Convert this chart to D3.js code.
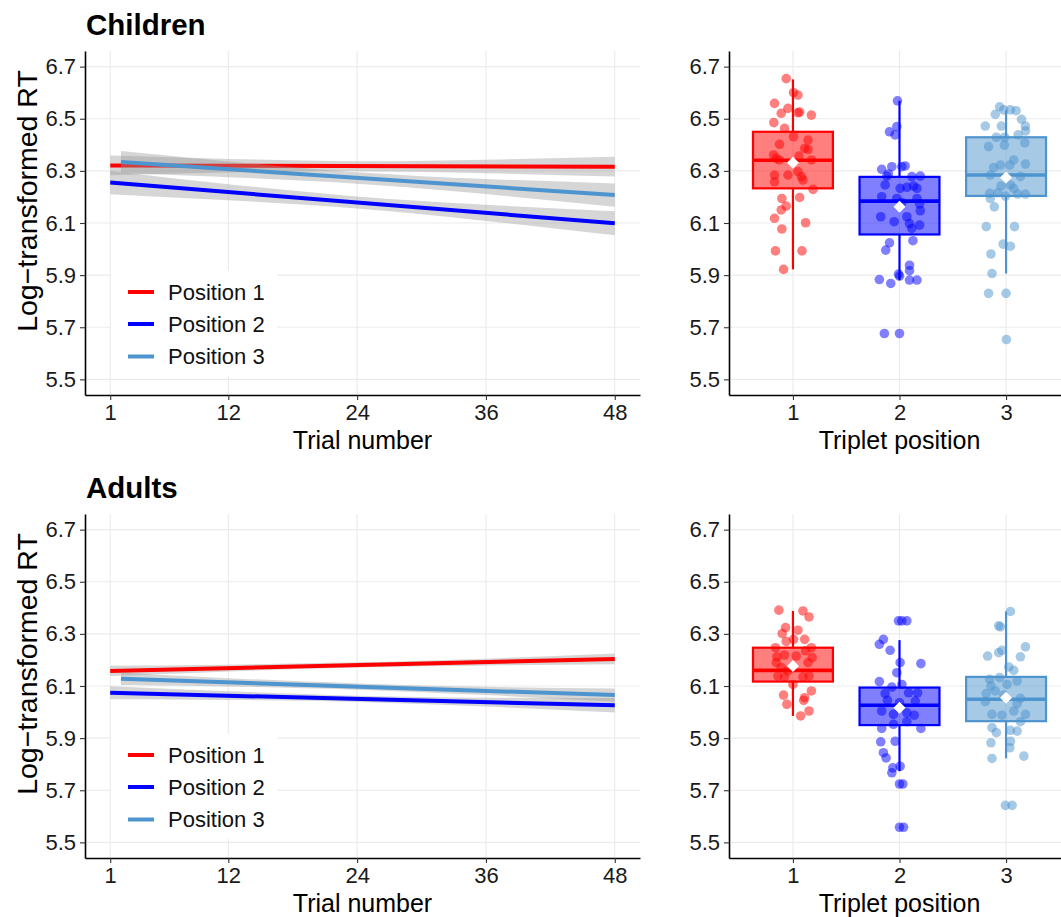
<!DOCTYPE html>
<html><head><meta charset="utf-8">
<script src="https://cdn.jsdelivr.net/npm/d3@7"></script>
<style>
html,body{margin:0;padding:0;background:#fff;}
svg{display:block;font-family:"Liberation Sans",Arial,Helvetica,sans-serif;}
</style></head>
<body>
<svg id="chart" width="1061" height="917"></svg>
<script>
// ---------------- DATA ----------------
const groupTitles = ["Children", "Adults"];
const seriesNames = ["Position 1", "Position 2", "Position 3"];
const seriesColors = ["#FF0000", "#0000FF", "#4E94CE"];
const yTicks = [5.5, 5.7, 5.9, 6.1, 6.3, 6.5, 6.7];
const trialTicks = [1, 12, 24, 36, 48];
const positionCats = ["1", "2", "3"];

// Fitted regression lines: [startTrial, startValue, endTrial, endValue]
const childrenFit = [[1, 6.321, 48, 6.316], [1, 6.255, 48, 6.099], [2, 6.334, 48, 6.207]];
const adultsFit   = [[1, 6.158, 48, 6.204], [1, 6.074, 48, 6.026], [2, 6.128, 48, 6.065]];

// Confidence bands read at knots
const bandKnotsP12 = [1, 12, 24, 36, 48];
const bandKnotsP3  = [2, 12, 24, 36, 48];
const childrenBandLow  = [[6.283, 6.294, 6.299, 6.291, 6.278], [6.210, 6.187, 6.156, 6.108, 6.053], [6.292, 6.276, 6.251, 6.211, 6.162]];
const childrenBandHigh = [[6.359, 6.346, 6.337, 6.343, 6.354], [6.300, 6.249, 6.202, 6.170, 6.145], [6.376, 6.336, 6.295, 6.269, 6.252]];
const adultsBandLow    = [[6.138, 6.156, 6.171, 6.179, 6.183], [6.049, 6.046, 6.039, 6.021, 5.998], [6.104, 6.098, 6.086, 6.065, 6.040]];
const adultsBandHigh   = [[6.178, 6.182, 6.191, 6.205, 6.225], [6.099, 6.080, 6.063, 6.055, 6.054], [6.152, 6.130, 6.110, 6.097, 6.090]];

// Box stats: [lowerWhisker, q1, median, q3, upperWhisker, mean]
const childrenBoxes = [[5.922, 6.233, 6.341, 6.450, 6.651, 6.331], [5.881, 6.056, 6.184, 6.277, 6.569, 6.162], [5.906, 6.204, 6.284, 6.429, 6.533, 6.275]];
const adultsBoxes   = [[5.985, 6.117, 6.160, 6.247, 6.388, 6.177], [5.773, 5.950, 6.026, 6.094, 6.276, 6.017], [5.822, 5.965, 6.049, 6.135, 6.386, 6.055]];

// Jittered participant points: [jitter offset (category units), value]
const childrenPts1 = [[-0.063,6.654],[0.006,6.600],[0.047,6.591],[-0.173,6.559],[-0.047,6.540],[-0.110,6.521],[0.047,6.523],[0.063,6.526],[0.173,6.514],[-0.179,6.485],[-0.079,6.463],[0.006,6.431],[0.142,6.418],[-0.126,6.402],[0.110,6.386],[0.142,6.382],[-0.182,6.361],[-0.157,6.348],[-0.126,6.342],[0.057,6.357],[0.173,6.342],[-0.047,6.284],[-0.173,6.284],[-0.173,6.258],[0.079,6.278],[0.094,6.265],[0.047,6.297],[0.189,6.229],[-0.104,6.194],[0.063,6.198],[-0.063,6.165],[-0.110,6.150],[-0.173,6.118],[0.119,6.101],[-0.104,6.077],[-0.164,5.993],[0.085,5.993],[-0.088,5.922]];
const childrenPts2 = [[-0.019,6.569],[-0.094,6.450],[-0.025,6.470],[-0.041,6.438],[-0.167,6.306],[-0.072,6.316],[0.022,6.316],[0.053,6.319],[-0.104,6.288],[-0.119,6.280],[0.116,6.278],[0.195,6.280],[-0.135,6.246],[0.006,6.233],[0.069,6.237],[0.132,6.242],[0.164,6.233],[-0.167,6.201],[-0.025,6.194],[0.022,6.178],[0.164,6.194],[0.189,6.173],[0.195,6.147],[-0.176,6.124],[-0.050,6.105],[0.069,6.124],[0.094,6.098],[0.189,6.092],[0.116,6.079],[-0.094,6.024],[0.126,6.032],[-0.129,5.996],[0.094,5.938],[0.094,5.917],[0.000,5.896],[-0.009,5.904],[-0.189,5.883],[-0.082,5.868],[0.094,5.881],[0.164,5.881],[-0.142,5.676],[0.000,5.676]];
const childrenPts3 = [[-0.060,6.546],[-0.022,6.534],[0.041,6.534],[0.094,6.531],[-0.101,6.517],[0.145,6.498],[-0.195,6.472],[-0.044,6.472],[0.182,6.472],[0.182,6.453],[0.113,6.438],[-0.091,6.429],[-0.013,6.429],[-0.164,6.393],[-0.016,6.399],[0.176,6.408],[0.072,6.342],[-0.116,6.313],[-0.053,6.322],[0.035,6.322],[0.182,6.326],[-0.148,6.284],[0.135,6.278],[-0.047,6.242],[0.041,6.246],[0.072,6.233],[-0.154,6.214],[-0.079,6.216],[-0.006,6.203],[0.110,6.211],[0.182,6.211],[-0.148,6.194],[-0.110,6.162],[-0.186,6.086],[0.079,6.086],[-0.028,6.019],[0.041,6.011],[-0.142,5.981],[-0.132,5.906],[-0.164,5.830],[0.000,5.830],[0.003,5.653]];
const adultsPts1 = [[-0.132,6.391],[0.094,6.388],[0.151,6.365],[-0.069,6.324],[0.047,6.314],[-0.101,6.301],[0.006,6.279],[0.110,6.279],[-0.063,6.271],[-0.164,6.247],[0.173,6.247],[-0.079,6.219],[0.031,6.215],[0.119,6.235],[-0.151,6.212],[0.182,6.209],[-0.157,6.190],[0.142,6.190],[-0.110,6.171],[-0.047,6.158],[-0.142,6.138],[-0.079,6.135],[0.094,6.135],[0.151,6.138],[0.000,6.106],[0.173,6.081],[0.110,6.055],[-0.088,6.065],[0.101,6.045],[-0.057,6.030],[0.151,6.004],[0.072,5.985]];
const adultsPts2 = [[-0.009,6.350],[0.022,6.350],[0.069,6.350],[-0.151,6.279],[-0.189,6.260],[-0.088,6.237],[0.201,6.186],[0.006,6.190],[-0.025,6.151],[-0.189,6.117],[-0.072,6.096],[0.022,6.106],[-0.135,6.071],[0.085,6.074],[0.170,6.074],[-0.113,6.045],[0.000,6.036],[0.148,6.042],[-0.167,6.004],[-0.057,5.991],[0.069,5.997],[0.138,5.988],[-0.057,5.953],[0.069,5.963],[-0.167,5.937],[0.201,5.937],[-0.176,5.886],[-0.041,5.888],[-0.151,5.844],[-0.126,5.824],[-0.063,5.786],[0.006,5.792],[-0.072,5.767],[0.000,5.724],[0.031,5.724],[0.000,5.558],[0.038,5.558]];
const adultsPts3 = [[0.041,6.386],[-0.069,6.331],[-0.053,6.327],[-0.173,6.215],[-0.069,6.228],[-0.038,6.237],[0.182,6.250],[0.135,6.212],[0.025,6.173],[0.072,6.160],[-0.154,6.126],[-0.060,6.132],[0.104,6.119],[-0.142,6.100],[0.009,6.106],[-0.186,6.071],[-0.101,6.081],[-0.022,6.065],[0.135,6.053],[-0.195,6.040],[0.104,6.032],[-0.132,5.991],[-0.038,5.988],[0.072,6.004],[0.182,5.991],[0.135,5.963],[-0.132,5.940],[-0.091,5.921],[0.041,5.930],[0.104,5.927],[-0.142,5.882],[0.041,5.888],[0.035,5.863],[-0.132,5.822],[0.167,5.831],[-0.006,5.642],[0.057,5.642]];

const groups = [
  {title: groupTitles[0], fit: childrenFit, low: childrenBandLow, high: childrenBandHigh, boxes: childrenBoxes, pts: [childrenPts1, childrenPts2, childrenPts3]},
  {title: groupTitles[1], fit: adultsFit, low: adultsBandLow, high: adultsBandHigh, boxes: adultsBoxes, pts: [adultsPts1, adultsPts2, adultsPts3]}
];

// ---------------- LAYOUT ----------------
const svg = d3.select("#chart");
const FONT = '"Liberation Sans",Arial,Helvetica,sans-serif';
const rowOffset = 463;
const leftX = [85, 640], rightX = [729, 1070];
const yTop = 51, yBot = 395;
const tickFont = 22, legendFont = 22, titleFont = 25;

const xTrial = d3.scaleLinear().domain([-1.35, 50.35]).range(leftX);
const xPos = d3.scalePoint().domain(positionCats).range(rightX).padding(0.6);
const step = xPos.step();
const boxW = step * 0.75;

groups.forEach((g, gi) => {
  const off = gi * rowOffset;
  const y = d3.scaleLinear().domain([5.44, 6.76]).range([yBot + off, yTop + off]);
  const root = svg.append("g");

  // Title
  root.append("text").attr("x", 86).attr("y", 35 + off)
    .attr("font-size", 29.5).attr("font-weight", "bold").attr("fill", "#000").text(g.title);

  // ---- gridlines
  const grid = root.append("g").attr("stroke", "#EBEBEB").attr("stroke-width", 1.1);
  [[leftX, xTrial, trialTicks], [rightX, xPos, positionCats]].forEach(([xr, xs, tv]) => {
    yTicks.forEach(t => grid.append("line").attr("x1", xr[0]).attr("x2", xr[1]).attr("y1", y(t)).attr("y2", y(t)));
    tv.forEach(t => grid.append("line").attr("x1", xs(t)).attr("x2", xs(t)).attr("y1", yTop + off).attr("y2", yBot + off));
  });

  // ---- left panel: bands + lines
  const lp = root.append("g");
  g.fit.forEach((f, si) => {
    const knots = si === 2 ? bandKnotsP3 : bandKnotsP12;
    const bandData = knots.map((k, i) => ({t: k, lo: g.low[si][i], hi: g.high[si][i]}));
    const area = d3.area().x(d => xTrial(d.t)).y0(d => y(d.lo)).y1(d => y(d.hi)).curve(d3.curveNatural);
    lp.append("path").attr("d", area(bandData)).attr("fill", "#999999").attr("fill-opacity", 0.4);
    lp.append("line").attr("x1", xTrial(f[0])).attr("y1", y(f[1])).attr("x2", xTrial(f[2])).attr("y2", y(f[3]))
      .attr("stroke", seriesColors[si]).attr("stroke-width", 4);
  });

  // Legend
  const leg = root.append("g");
  leg.append("rect").attr("x", 111).attr("y", 271 + off).attr("width", 166).attr("height", 105).attr("fill", "#fff");
  const legRows = [292, 324, 356.5];
  seriesNames.forEach((n, i) => {
    const ly = legRows[i] + off;
    leg.append("line").attr("x1", 128).attr("x2", 154).attr("y1", ly).attr("y2", ly)
      .attr("stroke", seriesColors[i]).attr("stroke-width", 4);
    leg.append("text").attr("x", 168).attr("y", ly).attr("dy", "0.36em")
      .attr("font-size", legendFont).attr("fill", "#111").text(n);
  });

  // ---- right panel: boxplots
  const rp = root.append("g");
  g.boxes.forEach((b, i) => {
    const cx = xPos(positionCats[i]);
    const col = seriesColors[i];
    rp.append("line").attr("x1", cx).attr("x2", cx).attr("y1", y(b[3])).attr("y2", y(b[4])).attr("stroke", col).attr("stroke-width", 2.2);
    rp.append("line").attr("x1", cx).attr("x2", cx).attr("y1", y(b[1])).attr("y2", y(b[0])).attr("stroke", col).attr("stroke-width", 2.2);
    rp.append("rect").attr("x", cx - boxW / 2).attr("width", boxW).attr("y", y(b[3])).attr("height", y(b[1]) - y(b[3]))
      .attr("fill", col).attr("fill-opacity", 0.5).attr("stroke", col).attr("stroke-width", 2.2);
    rp.append("line").attr("x1", cx - boxW / 2).attr("x2", cx + boxW / 2).attr("y1", y(b[2])).attr("y2", y(b[2]))
      .attr("stroke", col).attr("stroke-width", 3.6);
  });
  g.pts.forEach((pts, i) => {
    const col = seriesColors[i];
    rp.selectAll(null).data(pts).enter().append("circle")
      .attr("cx", d => xPos(positionCats[i]) + d[0] * step).attr("cy", d => y(d[1])).attr("r", 4.8)
      .attr("fill", col).attr("fill-opacity", 0.5);
  });
  g.boxes.forEach((b, i) => {
    const cx = xPos(positionCats[i]), cy = y(b[5]), r = 6;
    rp.append("path").attr("d", `M${cx},${cy - r}L${cx + r},${cy}L${cx},${cy + r}L${cx - r},${cy}Z`).attr("fill", "#fff");
  });

  // ---- axes
  const styleAxis = sel => {
    sel.select(".domain").attr("stroke", "#000").attr("stroke-width", 1.6);
    sel.selectAll(".tick line").attr("stroke", "#333").attr("stroke-width", 1.1);
    sel.selectAll(".tick text").attr("font-family", FONT).attr("font-size", tickFont).attr("fill", "#1a1a1a");
  };
  [leftX[0], rightX[0]].forEach(x0 => {
    root.append("g").attr("transform", `translate(${x0},0)`)
      .call(d3.axisLeft(y).tickValues(yTicks).tickFormat(d3.format(".1f")).tickSize(5).tickSizeOuter(0).tickPadding(4))
      .call(styleAxis);
  });
  root.append("g").attr("transform", `translate(0,${yBot + off})`)
    .call(d3.axisBottom(xTrial).tickValues(trialTicks).tickFormat(d3.format("d")).tickSize(5).tickSizeOuter(0).tickPadding(4))
    .call(styleAxis);
  root.append("g").attr("transform", `translate(0,${yBot + off})`)
    .call(d3.axisBottom(xPos).tickSize(5).tickSizeOuter(0).tickPadding(4))
    .call(styleAxis);

  // Axis titles
  root.append("text").attr("x", (leftX[0] + leftX[1]) / 2).attr("y", 449 + off).attr("text-anchor", "middle")
    .attr("font-size", titleFont).attr("fill", "#000").text("Trial number");
  root.append("text").attr("x", (rightX[0] + rightX[1]) / 2).attr("y", 449 + off).attr("text-anchor", "middle")
    .attr("font-size", titleFont).attr("fill", "#000").text("Triplet position");
  root.append("text").attr("transform", `translate(37,${201 + off}) rotate(-90)`).attr("text-anchor", "middle")
    .attr("font-size", 28.5).attr("fill", "#000").text("Log\u2212transformed RT");
});
</script>
</body></html>
